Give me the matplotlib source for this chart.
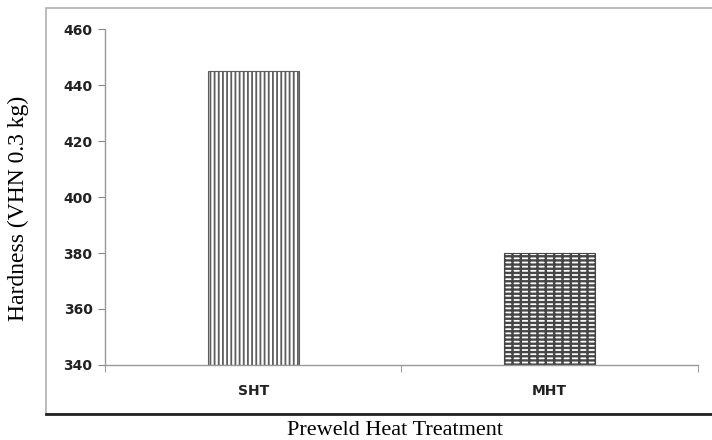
import matplotlib
matplotlib.use('Agg')
import matplotlib.pyplot as plt
from matplotlib.patches import Rectangle
from matplotlib.lines import Line2D

treatments = ["SHT", "MHT"]
hardness = [445, 380]
hatches = ["||||", "----||"]
hatch_colors = ["#5e5e5e", "#464646"]
hatch_widths = [1.3, 1.7]
y_ticks = [340, 360, 380, 400, 420, 440, 460]

fig = plt.figure(figsize=(7.12, 4.4), dpi=100)
ax = fig.add_axes([0.1475, 0.1705, 0.8325, 0.7635])

# chart area frame
fig.patches.append(Rectangle((46 / 712, 26 / 440), 1.0, 406 / 440, transform=fig.transFigure,
                             fill=False, edgecolor='#b0b0b0', linewidth=1.2))
fig.lines.append(Line2D([46 / 712, 1.0], [26 / 440, 26 / 440], transform=fig.transFigure,
                        color='#222222', linewidth=2.0))

for i, v in enumerate(hardness):
    with plt.rc_context({'hatch.linewidth': hatch_widths[i]}):
        ax.bar(i, v - 340, bottom=340, width=0.307, color='white', edgecolor=hatch_colors[i],
               hatch=hatches[i], linewidth=0.8)

ax.set_xlim(-0.5, 1.5)
ax.set_ylim(340, 460)
ax.set_yticks(y_ticks)
ax.set_yticklabels([str(t) for t in y_ticks], fontsize=10, fontweight='bold', color='#222222')
ax.set_xticks([0, 1])
ax.set_xticklabels(treatments, fontsize=10, fontweight='bold', color='#222222')
ax.set_xticks([-0.5, 0.5, 1.5], minor=True)
ax.tick_params(axis='x', which='major', length=0, pad=14)
ax.tick_params(axis='x', which='minor', length=5, color='#888888')
ax.tick_params(axis='y', length=5, color='#888888', pad=4)

for s in ['top', 'right']:
    ax.spines[s].set_visible(False)
for s in ['left', 'bottom']:
    ax.spines[s].set_color('#999999')
    ax.spines[s].set_linewidth(1.0)

fig.text(18 / 712, 232 / 440, "Hardness (VHN 0.3 kg)", rotation=90, ha='center', va='center',
         fontsize=17, family='Liberation Serif')
fig.text(395 / 712, 10 / 440, "Preweld Heat Treatment", ha='center', va='center',
         fontsize=16, family='Liberation Serif')

plt.savefig("out.png", dpi=100)
